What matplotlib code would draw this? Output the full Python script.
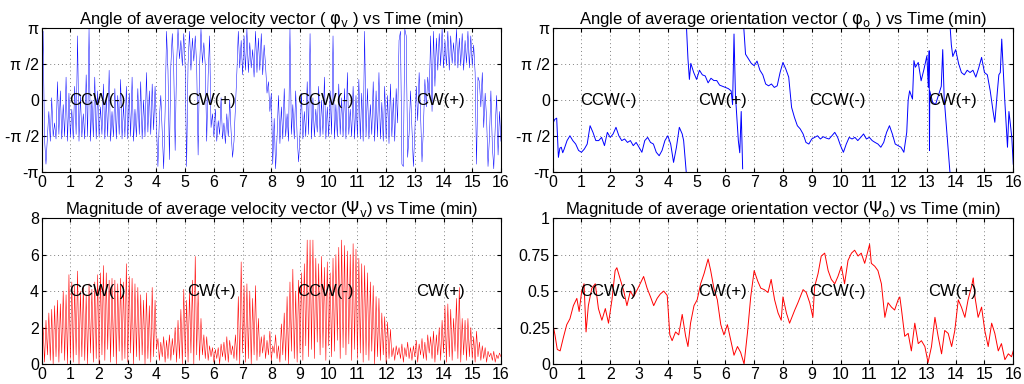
import numpy as np
import matplotlib
matplotlib.use("Agg")
import matplotlib.pyplot as plt

plt.rcParams['font.family'] = ['Liberation Sans', 'DejaVu Sans']
plt.rcParams['mathtext.fontset'] = 'dejavusans'

# --- velocity angle (rad): base level at t = 0.0, 0.1, ... 16.0 and the jump in between
vel_ang_base = [
    -1.5, -1.7, -1.6, -1.8, -1.6, -1.7, -1.5, -1.7, -1.6, -1.8,
    -1.6, -1.7, -1.5, -1.8, -1.6, -1.7, -1.6, -1.8, -1.6, -1.7,
    -1.6, -1.5, -1.7, -1.6, -1.8, -1.6, -1.7, -1.5, -1.7, -1.6,
    -1.7, -1.6, -1.8, -1.6, -1.5, -1.7, -1.6, -1.4, -1.5, -1.3,
    -1.2, -0.8, -1.4, -0.5, 1.3, 1.5, 1.4, 1.6, 1.8, 1.5,
    1.4, 1.6, 1.3, 1.7, 1.5, 1.4, 1.6, 1.5, 1.1, -1.2,
    -1.6, -1.8, -1.5, -1.7, -1.9, -1.6, -1.4, -1.8, 1.2, 1.4,
    1.1, 1.3, 1.2, 1.4, 1.0, 1.2, 1.3, 1.1, 1.5, 0.8,
    0.3, -0.8, -1.6, -1.9, -1.7, -1.6, -1.8, -1.5, -1.7, -1.6,
    -1.5, -1.7, -1.6, -1.5, -1.7, -1.6, -1.4, -1.6, -1.5, -1.7,
    -1.6, -1.5, -1.7, -1.6, -1.5, -1.6, -1.7, -1.5, -1.6, -1.7,
    -1.6, -1.7, -1.8, -1.6, -1.7, -1.5, -1.8, -1.6, -1.7, -1.8,
    -1.7, -1.9, -1.6, -1.8, -1.0, 3.0, -2.9, 2.8, -1.5, -1.2,
    -1.4, -0.9, -0.6, -1.2, -0.3, 0.2, -0.5, 0.6, 1.3, 1.5,
    1.4, 1.5, 1.3, 1.6, 1.5, 1.4, 1.5, 1.3, 1.6, 1.4,
    1.5, 1.2, 1.0, -0.3, -1.2, -0.8, -1.6, -2.0, -1.2, -2.4,
    -1.8]
vel_ang_jump = [
    3.0, -2.8, -0.5, 0.1, -1.0, 0.8, 0.4, -0.2, 1.0, 0.3,
    -0.4, 0.6, 2.8, 0.2, -0.6, 1.1, 3.1, 0.0, 1.0, 0.4,
    -0.3, 0.7, 0.1, 1.3, -0.5, 0.5, 0.2, 0.9, -0.2, 0.6,
    0.3, 1.0, -0.4, 0.5, 0.8, 0.0, 1.2, 0.4, 0.7, 0.6,
    -2.9, 0.2, -3.0, 3.0, -2.6, 2.9, -2.2, 3.1, 2.6, 2.9,
    -2.9, 3.0, 2.7, 2.8, -2.4, 3.1, 2.5, -1.8, 2.8, -0.6,
    -0.4, -0.9, 0.1, -1.0, -0.6, 0.0, -2.5, -0.3, 3.0, 2.6,
    2.8, 3.1, 2.5, 2.2, 3.0, 2.7, 2.9, 2.4, 0.3, -0.5,
    -2.8, -3.0, 0.2, -0.3, 0.5, -0.6, 3.1, -0.2, 0.4, -2.7,
    0.3, -0.5, 0.8, 2.9, 0.1, -0.4, 0.6, 0.0, 1.0, -0.3,
    0.4, 2.8, -0.2, 0.7, 0.1, 0.5, 1.2, -0.4, 0.6, 0.2,
    0.9, 0.3, 3.0, 0.5, -0.2, 0.8, 0.4, 1.2, -0.1, 0.6,
    0.2, 0.7, 0.1, 0.5, 2.6, -2.8, 3.1, -2.5, 0.4, -2.9,
    0.6, 1.2, -2.7, 0.9, 1.0, 2.8, 3.0, 2.7, 2.9, 3.1,
    2.6, 3.0, 2.8, 2.5, 3.1, 2.7, 2.9, 2.6, 3.0, 2.8,
    2.4, -2.8, 0.8, 1.2, 0.3, -2.9, 0.4, -3.0, 0.2, -0.5]

# --- velocity magnitude: lows at t = 0.0 ... 16.0, peaks in between
vel_mag_low = [
    0.3, 0.1, 0.5, 0.2, 0.0, 0.4, 0.1, 0.6, 0.2, 0.0,
    0.3, 0.1, 0.5, 0.0, 0.4, 0.2, 0.0, 0.6, 0.1, 0.3,
    0.0, 0.5, 0.2, 0.8, 0.1, 0.4, 0.0, 0.7, 0.2, 0.3,
    0.1, 0.6, 0.0, 0.4, 0.2, 0.5, 0.0, 0.3, 0.1, 0.4,
    0.8, 0.2, 0.4, 0.1, 0.3, 0.2, 0.5, 0.1, 0.3, 0.0,
    0.4, 0.1, 0.6, 0.0, 0.5, 0.2, 0.5, 0.3, 0.2, 0.4,
    0.1, 0.3, 0.0, 0.4, 0.2, 0.1, 0.5, 0.3, 0.2, 0.0,
    0.6, 0.1, 0.3, 0.0, 0.5, 0.2, 0.4, 0.6, 0.3, 0.5,
    0.2, 0.6, 0.3, 0.1, 0.5, 0.2, 0.0, 0.7, 0.3, 0.1,
    0.6, 0.2, 1.0, 0.4, 0.8, 0.3, 1.2, 0.5, 0.9, 0.2,
    1.0, 0.4, 0.7, 1.3, 0.3, 0.9, 0.5, 1.1, 0.2, 0.8,
    0.3, 0.6, 0.1, 0.5, 0.2, 0.7, 0.0, 0.4, 0.2, 0.5,
    0.1, 0.3, 0.4, 0.2, 0.5, 0.3, 0.1, 0.4, 0.3, 0.2,
    0.4, 0.1, 0.5, 0.3, 0.2, 0.6, 0.3, 0.1, 0.5, 0.2,
    0.6, 0.1, 0.4, 0.2, 0.7, 0.3, 0.1, 0.5, 0.2, 0.4,
    0.3, 0.1, 0.4, 0.2, 0.3, 0.1, 0.4, 0.2, 0.1, 0.3,
    0.4]
vel_mag_peak = [
    2.0, 2.4, 2.8, 3.0, 3.2, 3.5, 3.3, 4.0, 3.8, 4.9,
    4.5, 4.3, 5.1, 4.0, 4.3, 3.8, 4.4, 4.1, 4.5, 4.9,
    5.0, 5.4, 5.0, 4.6, 4.7, 4.6, 4.4, 4.7, 4.5, 5.5,
    4.8, 4.7, 4.4, 4.2, 3.8, 3.5, 3.9, 3.2, 4.2, 3.5,
    1.4, 1.2, 1.5, 1.3, 1.6, 1.4, 2.0, 2.4, 3.0, 4.1,
    3.5, 4.0, 4.6, 5.9, 4.0, 2.5, 1.6, 1.5, 1.0, 0.9,
    0.8, 0.9, 1.1, 1.2, 1.5, 1.3, 1.0, 1.6, 3.7, 5.6,
    4.3, 4.4, 4.0, 3.6, 4.3, 2.5, 1.5, 1.6, 1.3, 1.8,
    1.0, 1.6, 1.0, 2.2, 2.8, 3.7, 4.5, 5.2, 4.0, 4.6,
    5.0, 5.5, 6.8, 6.8, 6.8, 5.8, 5.5, 5.9, 5.3, 5.6,
    5.0, 5.8, 6.0, 6.4, 6.8, 6.5, 6.2, 6.0, 6.6, 6.3,
    5.8, 5.5, 5.4, 5.0, 4.5, 4.3, 3.7, 3.6, 2.8, 2.6,
    2.3, 1.9, 0.9, 1.0, 0.9, 1.1, 0.9, 1.2, 0.9, 1.0,
    1.3, 1.1, 1.4, 1.2, 1.6, 1.5, 1.8, 1.6, 2.0, 2.4,
    3.2, 3.3, 3.0, 2.5, 3.6, 4.2, 2.5, 2.4, 2.5, 2.0,
    1.5, 1.8, 1.2, 1.0, 0.9, 0.7, 0.6, 0.7, 0.5, 0.6]

# --- orientation angle (rad)
ori_ang_t = [
    0.0, 0.07, 0.14, 0.2, 0.25, 0.3, 0.35, 0.4, 0.5, 0.6, 0.7, 0.8, 0.9,
    1.0, 1.1, 1.2, 1.3, 1.4, 1.5, 1.6, 1.7, 1.8, 1.9,
    2.0, 2.1, 2.2, 2.3, 2.4, 2.5, 2.6, 2.7, 2.8, 2.9,
    3.0, 3.1, 3.2, 3.3, 3.4, 3.5, 3.6, 3.7, 3.8, 3.9,
    4.0, 4.1, 4.2, 4.3, 4.4, 4.5, 4.55, 4.6, 4.64, 4.65, 4.7, 4.75, 4.8, 4.9,
    5.0, 5.1, 5.2, 5.3, 5.4, 5.5, 5.6, 5.7, 5.8, 5.9,
    6.0, 6.1, 6.2, 6.25, 6.3, 6.35, 6.45, 6.5, 6.55, 6.6, 6.64, 6.7, 6.8, 6.9,
    7.0, 7.1, 7.2, 7.3, 7.4, 7.5, 7.6, 7.7, 7.8, 7.9,
    8.0, 8.1, 8.2, 8.3, 8.4, 8.5, 8.6, 8.7, 8.8, 8.9,
    9.0, 9.1, 9.2, 9.3, 9.4, 9.5, 9.6, 9.7, 9.8, 9.9,
    10.0, 10.1, 10.2, 10.3, 10.4, 10.5, 10.6, 10.7, 10.8, 10.9,
    11.0, 11.1, 11.2, 11.3, 11.4, 11.5, 11.6, 11.7, 11.8, 11.9,
    12.0, 12.1, 12.2, 12.3, 12.35, 12.4, 12.5, 12.55, 12.6, 12.7, 12.8, 12.9,
    13.0, 13.05, 13.08, 13.09, 13.1, 13.2, 13.3, 13.4, 13.5, 13.55, 13.6, 13.7, 13.8, 13.81, 13.85, 13.9,
    14.0, 14.1, 14.2, 14.3, 14.4, 14.5, 14.6, 14.7, 14.8, 14.9,
    15.0, 15.1, 15.2, 15.3, 15.36, 15.45, 15.5, 15.55, 15.6, 15.65, 15.7, 15.8, 15.85, 15.9, 15.95,
    16.0]
ori_ang = [
    -1.05, -0.85, -0.79, -2.5, -2.1, -2.06, -2.3, -2.14, -1.77, -1.56, -1.77, -1.92, -2.2,
    -2.28, -2.14, -1.92, -1.12, -1.41, -1.77, -1.77, -1.63, -1.99, -1.41,
    -1.63, -1.48, -1.19, -1.56, -1.77, -1.70, -1.85, -1.77, -1.99, -1.85,
    -2.06, -2.28, -1.77, -1.63, -1.85, -1.92, -2.28, -2.43, -2.2, -1.77,
    -1.56, -1.92, -2.72, -2.06, -1.19, -1.48, -1.77, -2.5, -3.14, 3.14, 1.8, 0.9, 1.6, 1.2,
    0.9, 1.3, 1.1, 1.05, 0.75, 0.95, 0.85, 0.85, 0.65, 0.6,
    0.55, 0.5, 0.4, -0.2, 2.88, 0.2, -1.77, -2.3, -0.5, -3.0, 3.14, 2.0, 1.8, 1.6,
    1.5, 1.7, 1.3, 1.1, 0.7, 0.62, 0.7, 0.55, 0.62, 1.2,
    1.64, 1.35, 1.0, -0.32, -0.76, -1.12, -1.26, -1.48, -1.85, -1.92,
    -1.70, -1.63, -1.56, -1.70, -1.60, -1.66, -1.70, -1.56, -1.41, -1.63,
    -1.99, -2.28, -1.92, -1.63, -1.70, -1.63, -1.77, -1.63, -1.48, -1.70,
    -1.63, -1.77, -1.85, -1.92, -2.06, -1.85, -1.41, -1.12, -1.48, -1.92,
    -1.99, -2.06, -2.28, -1.41, 0.0, 0.4, 0.04, 1.72, 1.43, 1.64, 0.84, 1.35,
    1.93, 0.55, 2.15, -2.2, 0.4, -0.1, -0.2, 0.2, 0.6, 2.2, 0.1, -1.5, -3.14, 3.14, 2.4, 1.9,
    2.2, 1.6, 1.2, 1.1, 1.3, 1.2, 1.3, 1.0, 1.4, 1.86,
    1.2, 1.1, 0.4, -0.5, -0.97, 0.4, 1.1, 1.2, 2.66, 1.4, 0.1, -2.06, -0.5, -1.05, -1.65,
    -2.8]

# --- orientation magnitude
ori_mag_t = [
    0.0, 0.08, 0.16, 0.26, 0.37, 0.49, 0.60, 0.72, 0.84, 0.92,
    1.01, 1.09, 1.16, 1.24, 1.36, 1.48, 1.59, 1.71, 1.83, 1.94,
    2.06, 2.17, 2.23, 2.35, 2.47, 2.58, 2.70, 2.81, 2.99, 3.16,
    3.28, 3.40, 3.51, 3.63, 3.74, 3.86, 3.98, 4.07, 4.15, 4.27,
    4.38, 4.50, 4.62, 4.70, 4.79, 4.91, 5.02, 5.14, 5.26, 5.40,
    5.49, 5.60, 5.72, 5.84, 5.95, 6.07, 6.19, 6.30, 6.42, 6.53,
    6.65, 6.77, 6.88, 7.00, 7.12, 7.23, 7.35, 7.48, 7.59, 7.71,
    7.83, 7.94, 8.00, 8.12, 8.23, 8.41, 8.52, 8.70, 8.81, 8.93,
    9.04, 9.10, 9.22, 9.33, 9.45, 9.57, 9.68, 9.80, 9.91, 10.03,
    10.14, 10.26, 10.38, 10.49, 10.61, 10.72, 10.84, 11.01, 11.07, 11.19,
    11.30, 11.42, 11.54, 11.65, 11.77, 11.88, 12.00, 12.06, 12.12, 12.23,
    12.35, 12.46, 12.58, 12.70, 12.81, 12.93, 13.04, 13.16, 13.28, 13.39,
    13.51, 13.62, 13.74, 13.86, 13.97, 14.09, 14.20, 14.32, 14.43, 14.55,
    14.61, 14.67, 14.78, 14.90, 15.01, 15.13, 15.25, 15.36, 15.48, 15.59,
    15.71, 15.83, 15.94, 16.0]
ori_mag = [
    0.28, 0.20, 0.10, 0.09, 0.18, 0.27, 0.31, 0.40, 0.45, 0.36,
    0.50, 0.55, 0.22, 0.40, 0.52, 0.55, 0.38, 0.30, 0.38, 0.28,
    0.44, 0.64, 0.66, 0.58, 0.50, 0.40, 0.50, 0.46, 0.53, 0.60,
    0.52, 0.46, 0.40, 0.45, 0.48, 0.50, 0.47, 0.20, 0.16, 0.22,
    0.20, 0.34, 0.19, 0.12, 0.28, 0.40, 0.44, 0.55, 0.62, 0.72,
    0.64, 0.52, 0.44, 0.27, 0.20, 0.27, 0.16, 0.06, 0.12, 0.08,
    0.00, 0.22, 0.46, 0.64, 0.57, 0.52, 0.51, 0.49, 0.58, 0.44,
    0.35, 0.30, 0.46, 0.35, 0.28, 0.37, 0.42, 0.51, 0.49, 0.42,
    0.32, 0.53, 0.62, 0.74, 0.76, 0.64, 0.58, 0.55, 0.60, 0.67,
    0.55, 0.71, 0.76, 0.78, 0.74, 0.76, 0.69, 0.82, 0.69, 0.67,
    0.64, 0.55, 0.32, 0.42, 0.39, 0.37, 0.44, 0.46, 0.37, 0.19,
    0.21, 0.09, 0.28, 0.14, 0.16, 0.12, 0.01, 0.12, 0.32, 0.19,
    0.07, 0.23, 0.21, 0.12, 0.23, 0.44, 0.39, 0.32, 0.44, 0.53,
    0.59, 0.46, 0.32, 0.39, 0.23, 0.12, 0.28, 0.21, 0.09, 0.14,
    0.03, 0.07, 0.05, 0.09]

regions = ['CCW(-)', 'CW(+)', 'CCW(-)', 'CW(+)']
region_x = [1.95, 5.9, 9.9, 13.9]

ang_ticks = [-np.pi, -np.pi / 2, 0, np.pi / 2, np.pi]
ang_labels = ['-π', '-π /2', '0', 'π /2', 'π']


def interleave(a, b):
    # a at t = 0, 0.1, ...; b halfway between
    out = np.empty(len(a) + len(b))
    out[0::2] = a
    out[1::2] = b
    t = np.arange(len(out)) * 0.05
    return t, out


def break_wraps(t, y):
    # no line across a +pi / -pi wrap
    t = np.asarray(t, float)
    y = np.asarray(y, float)
    idx = np.where(np.abs(np.diff(y)) > 6.0)[0] + 1
    return np.insert(t, idx, np.nan), np.insert(y, idx, np.nan)


def style(ax, title, ylim, yticks, ylabels, text_y):
    ax.set_xlim(0, 16)
    ax.set_ylim(*ylim)
    ax.set_xticks(range(17))
    ax.set_yticks(yticks)
    ax.set_yticklabels(ylabels)
    ax.grid(True, color='#808080', linestyle=(0, (1, 3)), linewidth=0.7)
    ax.tick_params(direction='in', length=3, labelsize=11.5, pad=2, top=True, right=True)
    for s in ax.spines.values():
        s.set_linewidth(0.8)
    ax.set_title(title, fontsize=12, pad=3)
    for lab, x in zip(regions, region_x):
        ax.text(x, text_y, lab, fontsize=12, ha='center', va='center')


fig = plt.figure(figsize=(10.24, 3.84), dpi=100)
ax1 = fig.add_axes([0.0407, 0.552, 0.4485, 0.375])
ax2 = fig.add_axes([0.5397, 0.552, 0.4498, 0.375])
ax3 = fig.add_axes([0.0407, 0.052, 0.4485, 0.380])
ax4 = fig.add_axes([0.5397, 0.052, 0.4498, 0.380])

t, y = interleave(vel_ang_base, vel_ang_jump)
ax1.plot(t, y, color='b', linewidth=0.35)
style(ax1, r'Angle of average velocity vector ( $\mathrm{\varphi_v}$ ) vs Time (min)',
      (-np.pi, np.pi), ang_ticks, ang_labels, 0)

t, y = break_wraps(ori_ang_t, ori_ang)
ax2.plot(t, y, color='b', linewidth=0.7)
style(ax2, r'Angle of average orientation vector ( $\mathrm{\varphi_o}$ ) vs Time (min)',
      (-np.pi, np.pi), ang_ticks, ang_labels, 0)

t, y = interleave(vel_mag_low, vel_mag_peak)
ax3.plot(t, y, color='r', linewidth=0.4)
style(ax3, r'Magnitude of average velocity vector ($\mathrm{\Psi_v}$) vs Time (min)',
      (0, 8), [0, 2, 4, 6, 8], ['0', '2', '4', '6', '8'], 4)

ax4.plot(ori_mag_t, ori_mag, color='r', linewidth=0.7)
style(ax4, r'Magnitude of average orientation vector ($\mathrm{\Psi_o}$) vs Time (min)',
      (0, 1), [0, 0.25, 0.5, 0.75, 1], ['0', '0.25', '0.5', '0.75', '1'], 0.5)

fig.savefig('out.png', dpi=100)
